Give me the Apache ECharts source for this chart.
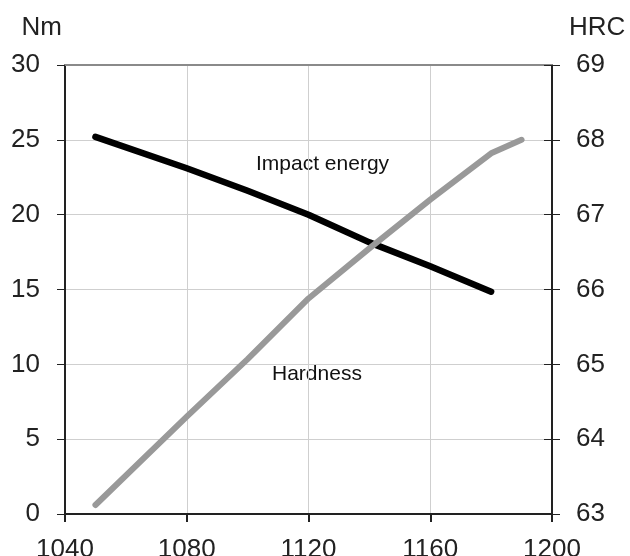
<!DOCTYPE html>
<html>
<head>
<meta charset="utf-8">
<script src="https://cdn.jsdelivr.net/npm/echarts@6/dist/echarts.min.js"></script>
<style>
  html, body { margin: 0; padding: 0; background: #fff; }
  #chart { width: 630px; height: 556px; }
</style>
</head>
<body>
<div id="chart"></div>
<script>
// temperature (x), impact energy Nm (left), hardness HRC (right)
var energyTemps = [1050, 1080, 1100, 1120, 1140, 1160, 1180];
var energyValues = [25.2, 23.1, 21.6, 20.0, 18.15, 16.55, 14.85];
var hardTemps = [1050, 1080, 1100, 1120, 1140, 1160, 1180, 1190];
var hardValues = [63.12, 64.3, 65.07, 65.88, 66.55, 67.2, 67.82, 68.0];
var xTicks = [1040, 1080, 1120, 1160, 1200];

var font = 'Liberation Sans, Arial, sans-serif';
var chart = echarts.init(document.getElementById('chart'));

function pairs(xs, ys) {
    return xs.map(function (x, i) { return [x, ys[i]]; });
}

chart.setOption({
    animation: false,
    grid: { left: 65, right: 78, top: 65, bottom: 42, containLabel: false, outerBoundsMode: 'none' },
    xAxis: [{
        type: 'value',
        min: xTicks[0],
        max: xTicks[xTicks.length - 1],
        interval: 40,
        axisLine: { lineStyle: { color: '#222', width: 2 } },
        axisTick: { length: 8, lineStyle: { color: '#222', width: 2 } },
        axisLabel: {
            color: '#222', fontSize: 26, fontFamily: font, margin: 23,
            formatter: function (v) { return String(v); }
        },
        splitLine: { show: true, lineStyle: { color: '#cfcfcf', width: 1 } }
    }, {
        type: 'value',
        position: 'top',
        min: xTicks[0],
        max: xTicks[xTicks.length - 1],
        axisLine: { show: true, lineStyle: { color: '#8a8a8a', width: 2 } },
        axisTick: { show: false },
        axisLabel: { show: false },
        splitLine: { show: false }
    }],
    yAxis: [{
        type: 'value',
        name: 'Nm',
        nameLocation: 'end',
        nameGap: 24,
        nameTextStyle: { color: '#222', fontSize: 26, fontFamily: font, align: 'right', padding: [0, 3, 0, 0] },
        min: 0,
        max: 30,
        interval: 5,
        axisLine: { show: true, lineStyle: { color: '#222', width: 2 } },
        axisTick: { show: true, length: 8, lineStyle: { color: '#222', width: 1 } },
        axisLabel: { color: '#222', fontSize: 26, fontFamily: font, margin: 25 },
        splitLine: { lineStyle: { color: '#cfcfcf', width: 1 } }
    }, {
        type: 'value',
        name: 'HRC',
        nameLocation: 'end',
        nameGap: 24,
        nameTextStyle: { color: '#222', fontSize: 26, fontFamily: font, align: 'left', padding: [0, 0, 0, 17] },
        position: 'right',
        min: 63,
        max: 69,
        interval: 1,
        axisLine: { show: true, lineStyle: { color: '#222', width: 2 } },
        axisTick: { show: true, length: 8, lineStyle: { color: '#222', width: 1 } },
        axisLabel: { color: '#222', fontSize: 26, fontFamily: font, margin: 24 },
        splitLine: { show: false }
    }, {
        type: 'value',
        position: 'right',
        min: 63,
        max: 69,
        interval: 1,
        axisLine: { show: false },
        axisTick: { show: true, inside: true, length: 8, lineStyle: { color: '#222', width: 1 } },
        axisLabel: { show: false },
        splitLine: { show: false }
    }],
    series: [{
        name: 'Impact energy',
        type: 'line',
        yAxisIndex: 0,
        data: pairs(energyTemps, energyValues),
        symbol: 'none',
        lineStyle: { color: '#000', width: 6.5, cap: 'round', join: 'round' }
    }, {
        name: 'Hardness',
        type: 'line',
        yAxisIndex: 1,
        data: pairs(hardTemps, hardValues),
        symbol: 'none',
        lineStyle: { color: '#999', width: 6, cap: 'round', join: 'round' }
    }],
    graphic: [{
        type: 'text',
        left: 256,
        top: 154,
        style: { text: 'Impact energy', fill: '#111', font: '21px ' + font }
    }, {
        type: 'text',
        left: 272,
        top: 364,
        style: { text: 'Hardness', fill: '#111', font: '21px ' + font }
    }]
});
</script>
</body>
</html>
